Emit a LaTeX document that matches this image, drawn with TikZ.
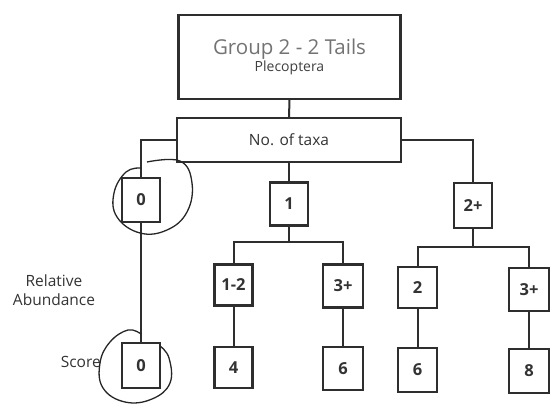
\documentclass[tikz,border=0pt]{standalone}
\usepackage{fontspec}
\setmainfont{Open Sans}
\begin{document}
\begin{tikzpicture}[x=1pt,y=-1pt,
  ink/.style={draw=black!82, line width=2.3pt},
  box/.style={ink, rectangle, inner sep=0pt, minimum width=38pt, minimum height=43pt,
    font=\fontsize{16.5}{18}\selectfont\bfseries, text=black!80},
  link/.style={draw=black!82, line width=2pt},
  loop/.style={draw=black!85, line width=1.3pt},
  lbl/.style={font=\fontsize{15.5}{19}\selectfont, text=black!80, inner sep=0pt}]
\useasboundingbox[fill=white] (0,0) rectangle (558,405);

% header boxes
\node[ink, rectangle, minimum width=222pt, minimum height=84pt, align=center] (top) at (289.5,57)
  {{\fontsize{20.5}{23}\selectfont\color{black!55}Group 2 - 2 Tails}\\[0pt]
   {\fontsize{14}{16}\selectfont\color{black!75}Plecoptera}};
\node[ink, rectangle, minimum width=224pt, minimum height=44pt,
  font=\fontsize{15.5}{17}\selectfont, text=black!80] (taxa) at (289,140) {No. of taxa};

% number of taxa
\node[box, minimum height=44pt] (b0) at (141,200) {0};
\node[box] (b1) at (289,204) {1};
\node[box, minimum height=45pt] (b2p) at (473,205.5) {2+};

% relative abundance
\node[box, minimum height=41pt] (b12) at (233.5,285) {1-2};
\node[box, minimum width=40pt] (b3m) at (343,286) {3+};
\node[box, minimum width=39pt, minimum height=41pt] (b2) at (417.5,287.5) {2};
\node[box, minimum width=40pt] (b3r) at (529,289.5) {3+};

% scores
\node[box, minimum height=45pt] (s0) at (141,365.5) {0};
\node[box, minimum height=41pt] (s4) at (233.5,367.5) {4};
\node[box, minimum width=40pt] (s6a) at (343,368.5) {6};
\node[box, minimum width=39pt, minimum height=44pt] (s6b) at (417.5,370) {6};
\node[box, minimum width=40pt, minimum height=44pt] (s8) at (529,371) {8};

% junctions
\coordinate (j1) at (289,242);
\coordinate (j2) at (473,247);

% connectors
\draw[link] (top.south) -- (taxa.north);
\draw[link] (taxa.west) -| (b0.north);
\draw[link] (taxa.east) -| (b2p.north);
\draw[link] (taxa.south) -- (b1.north);
\draw[link] (b1.south) -- (j1);
\draw[link] (b12.north) |- (j1) -| (b3m.north);
\draw[link] (b2p.south) -- (j2);
\draw[link] (b2.north) |- (j2) -| (b3r.north);
\draw[link] (b0.south) -- (s0.north);
\draw[link] (b12.south) -- (s4.north);
\draw[link] (b3m.south) -- (s6a.north);
\draw[link] (b2.south) -- (s6b.north);
\draw[link] (b3r.south) -- (s8.north);

% row labels
\node[lbl, align=center] (ra) at (54,290) {Relative\\Abundance};
\node[lbl, anchor=east] (sc) at (101,362) {Score};

% hand-drawn rings
\draw[loop] plot[smooth, tension=0.7] coordinates
  {(147,162) (180,161) (192,183) (187,212) (167,230) (140,233) (117,217) (114,193) (126,172) (141,168)};
\draw[loop] plot[smooth, tension=0.7] coordinates
  {(141,334) (128,330) (110,342) (100,363) (103,388) (125,402) (152,399) (170,383) (169,358) (160,346)};
\end{tikzpicture}
\end{document}
